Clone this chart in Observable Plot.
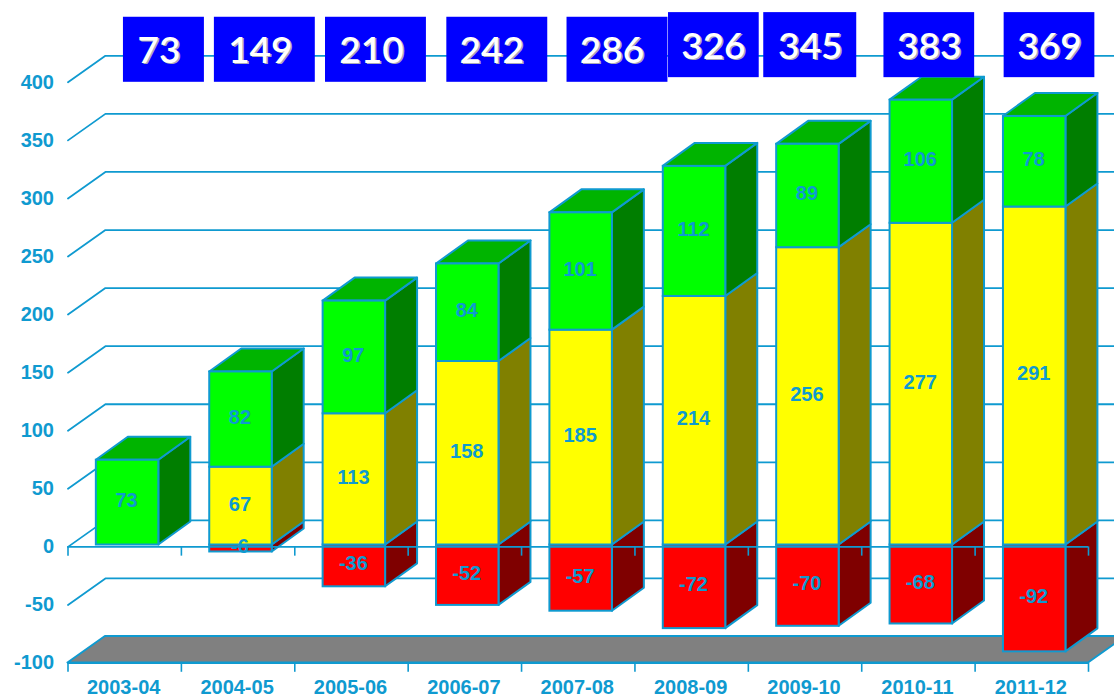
<!DOCTYPE html>
<html><head><meta charset="utf-8">
<script src="https://cdn.jsdelivr.net/npm/d3@7"></script>
<script src="https://cdn.jsdelivr.net/npm/@observablehq/plot@0.6"></script>
<style>html,body{margin:0;padding:0;background:#fff}svg{display:block}</style>
</head><body><div id="chart"></div>
<script>
const years = ["2003-04","2004-05","2005-06","2006-07","2007-08","2008-09","2009-10","2010-11","2011-12"];
const yellowValues = [0,67,113,158,185,214,256,277,291];
const greenValues = [73,82,97,84,101,112,89,106,78];
const redValues = [0,-6,-36,-52,-57,-72,-70,-68,-92];
const totals = [73,149,210,242,286,326,345,383,369];
const yTicks = [-100,-50,0,50,100,150,200,250,300,350,400];

// layout (x in category units, y in value units)
const wallDX = 0.33, wallDY = 22.8, barDX = 0.282, barDY = 19.8;
const barStart = 0.25, barWidth = 0.551, barLift = 1.6;
const boxCenterShift = [0.346,0.236,0.216,0.286,0.346,0.196,0.046,0.096,0.156];
const boxWidths = [0.714,0.89,0.89,0.89,0.89,0.80,0.82,0.80,0.80];
const boxBottoms = [400,400,400,400,400,404,404,404,404];
const boxHeight = 56;
const boxTextShift = [-5,-4.5,-4.5,-5.5,-5.5,-0.5,0,0,0];
const boxTextLift = [1,1,1,1,1,2,2,2,2];
const line = "#0f9ad0";

const idx = years.map((_, i) => i);
const rowsOf = (lows, highs) => idx.filter(i => lows[i] !== highs[i]).map(i => ({i, lo: lows[i] + barLift, hi: highs[i] + barLift}));
const zeros = idx.map(() => 0);
const greenLow = idx.map(i => yellowValues[i]);
const greenHigh = idx.map(i => yellowValues[i] + greenValues[i]);
const red = rowsOf(redValues, zeros), yellow = rowsOf(zeros, yellowValues), green = rowsOf(greenLow, greenHigh);

const sideRows = rows => rows.flatMap(r => [
  {k: r.i, x: r.i + barStart + barWidth, y1: r.lo, y2: r.hi},
  {k: r.i, x: r.i + barStart + barWidth + barDX, y1: r.lo + barDY, y2: r.hi + barDY}
]);
const topRows = rows => rows.flatMap(r => [
  {k: r.i, y: r.hi, x1: r.i + barStart, x2: r.i + barStart + barWidth},
  {k: r.i, y: r.hi + barDY, x1: r.i + barStart + barDX, x2: r.i + barStart + barWidth + barDX}
]);
const side = (rows, fill) => Plot.areaY(sideRows(rows), {x: "x", y1: "y1", y2: "y2", z: "k", fill, stroke: line, strokeWidth: 2});
const front = (rows, fill) => Plot.rect(rows, {x1: r => r.i + barStart, x2: r => r.i + barStart + barWidth, y1: "lo", y2: "hi", fill, stroke: line, strokeWidth: 2});
const labels = (rows, vals) => Plot.text(rows, {
  x: r => r.i + barStart + barWidth / 2, y: r => (r.lo + r.hi) / 2, text: r => String(vals[r.i]), dx: -1, dy: -2,
  fill: line, fontSize: 20, fontWeight: "bold", fontFamily: "Liberation Sans"
});
const wallLines = yTicks.slice(1).flatMap(v => [
  {v, x: 0, y: v}, {v, x: wallDX, y: v + wallDY}, {v, x: 9 + wallDX + 1, y: v + wallDY}
]);
const ticks = [-100, 0].flatMap(v => d3.range(10).map(i => ({i, v})));
const boxRows = idx.map(i => ({
  c: i + 0.5 + boxCenterShift[i], w: boxWidths[i], b: boxBottoms[i], t: totals[i]
}));
const boxText = (fill, dx, dy) => boxTextShift.map((s, i) => Plot.text([boxRows[i]], {
  x: "c", y: r => r.b + boxHeight / 2, text: r => String(r.t), dx: dx + s, dy: dy + boxTextLift[i],
  fill, fontSize: 37, fontFamily: "Lato", fontWeight: 600
}));

const plot = Plot.plot({
  width: 1114, height: 697, margin: 0,
  x: {type: "linear", domain: [0, 9], range: [67.5, 1088], axis: null},
  y: {type: "linear", domain: [-100, 400], range: [662.5, 81.8], axis: null},
  style: {background: "#fff", overflow: "hidden"},
  marks: [
    Plot.line(wallLines, {x: "x", y: "y", z: "v", stroke: line, strokeWidth: 1.8}),
    Plot.areaX([
      {y: -100, x1: 0, x2: 9},
      {y: -100 + wallDY, x1: wallDX, x2: 9 + wallDX}
    ], {y: "y", x1: "x1", x2: "x2", fill: "#808080", stroke: line, strokeWidth: 2}),
    side(red, "#7f0000"),
    front(red, "#ff0000"),
    side(yellow, "#808000"),
    front(yellow, "#ffff00"),
    side(green, "#007e00"),
    Plot.areaX(topRows(green), {y: "y", x1: "x1", x2: "x2", z: "k", fill: "#00b400", stroke: line, strokeWidth: 2}),
    front(green, "#00ff00"),
    Plot.ruleY([0, -100], {x1: 0, x2: 9, stroke: line, strokeWidth: 1.8}),
    Plot.ruleX(ticks, {x: "i", y1: "v", y2: d => d.v - 8, stroke: line, strokeWidth: 1.6}),
    Plot.text(yTicks, {x: 0, y: d => d, dx: -14, text: d => String(d), textAnchor: "end", fill: line, fontSize: 20, fontWeight: "bold", fontFamily: "Liberation Sans"}),
    labels(red, redValues),
    labels(yellow, yellowValues),
    labels(green, greenValues),
    Plot.text(years, {x: (d, i) => i + 0.5, y: -100, dy: 25, dx: -1, text: d => d, fill: line, fontSize: 20, fontWeight: "bold", fontFamily: "Liberation Sans"}),
    Plot.rect(boxRows, {x1: r => r.c - r.w / 2, x2: r => r.c + r.w / 2, y1: "b", y2: r => r.b + boxHeight, fill: "#0000ff"}),
    ...boxText("#a9a9b8", 1.5, 1.5),
    ...boxText("#ffffff", 0, 0)
  ]
});
document.getElementById("chart").append(plot);
</script></body></html>
